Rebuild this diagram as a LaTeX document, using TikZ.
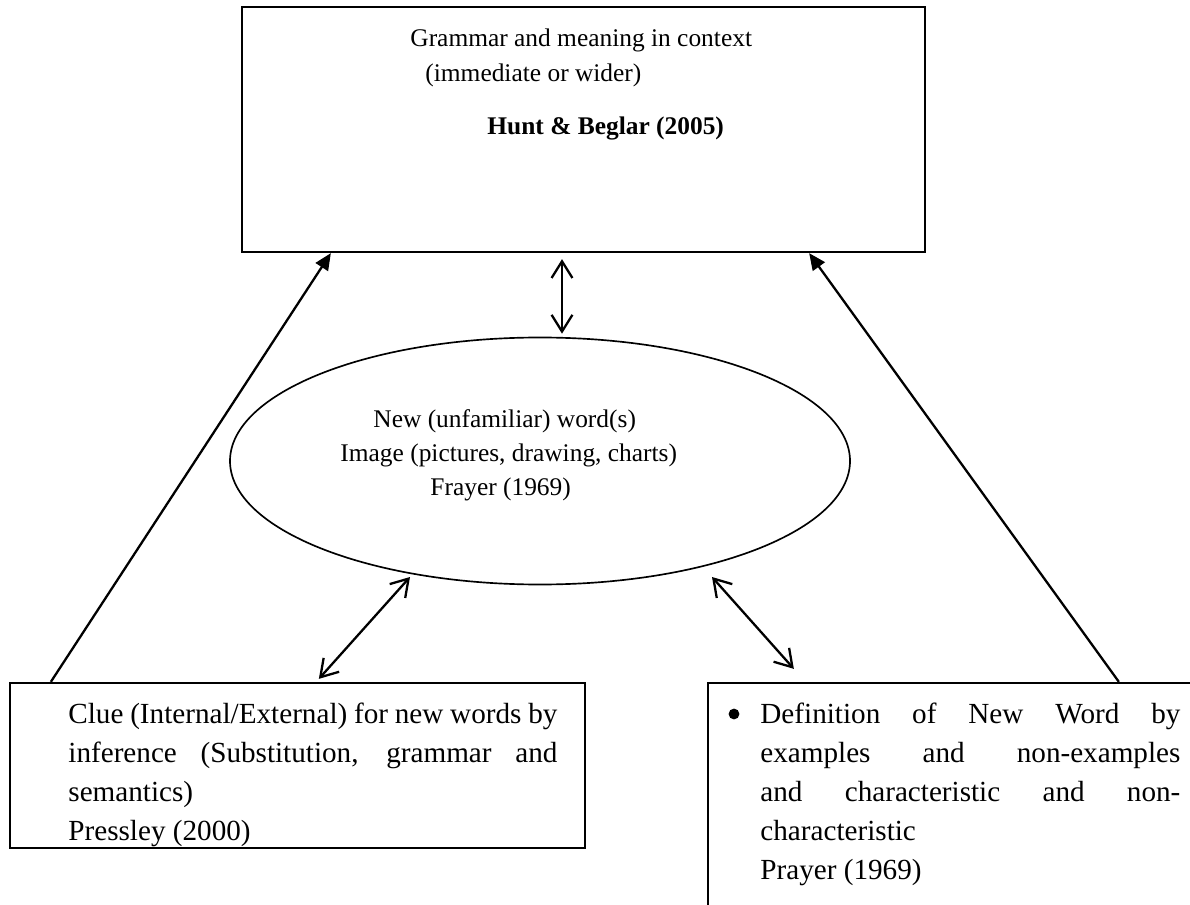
\documentclass[tikz,border=0pt]{standalone}
\usepackage{fontspec}
\setmainfont{Liberation Serif}
\usetikzlibrary{shapes.geometric,arrows.meta,calc}
\newcommand\parsetup{\tolerance=10000 \hyphenpenalty=10000 \exhyphenpenalty=10000 \relax}
\begin{document}
\begin{tikzpicture}[x=0.48pt,y=-0.48pt,
  box/.style={draw, line width=1.1pt, rectangle, inner sep=0pt},
  para/.style={inner sep=0pt, anchor=base west, align=justify,
    font=\fontsize{14}{18.8}\selectfont},
  txt/.style={inner sep=0pt, anchor=base west, font=\fontsize{12.2}{14}\selectfont},
  fillarrow/.style={line width=1.1pt, -{Triangle[length=8pt,width=7pt]}},
  dblarrow/.style={line width=1.1pt, {Straight Barb[length=8pt,width=10pt]}-{Straight Barb[length=8pt,width=10pt]}},
]
\useasboundingbox (0,0) rectangle (1190,905);
\begin{scope}
\clip (0,0) rectangle (1190,905);
% boxes
\node[box, minimum width=683*0.48pt, minimum height=245*0.48pt] (top) at (583.5,129.5) {};
\node[box, minimum width=575*0.48pt, minimum height=165*0.48pt] (lbox) at (297.5,765.5) {};
\node[box, minimum width=502*0.48pt, minimum height=242*0.48pt] (rbox) at (959,804) {};
\node[draw, ellipse, line width=0.8pt, inner sep=0pt, minimum width=620*0.48pt, minimum height=247*0.48pt] (ell) at (540,461) {};
\end{scope}
% top texts
\node[txt] (t1) at (410,47) {Grammar and meaning in context};
\node[txt] (t2) at (425,82) {(immediate or wider)};
\node[txt, font=\fontsize{12.2}{14}\selectfont\bfseries] (t3) at (487,135) {Hunt \& Beglar (2005)};
% ellipse texts
\node[txt] (e1) at (373,428) {New (unfamiliar) word(s)};
\node[txt] (e2) at (340,462) {Image (pictures, drawing, charts)};
\node[txt] (e3) at (430,496) {Frayer (1969)};
% box paragraphs
\node[para, text width=489*0.48pt] (lt) at (68,723)
  {\parsetup Clue (Internal/External) for new words by\linebreak inference (Substitution, grammar and\linebreak semantics)\newline Pressley (2000)};
\node[circle, fill, inner sep=0pt, minimum size=5.2pt] (bul) at (734,714) {};
\node[para, text width=420*0.48pt] (rt) at (760,723)
  {\parsetup Definition of New Word by\linebreak examples and non-examples\linebreak and characteristic and non-\linebreak characteristic\newline Prayer (1969)};
% connectors
\draw[fillarrow] ($(lbox.north west)+(42,0)$) -- ($(top.south west)+(90,0)$);
\draw[fillarrow] ($(rbox.north west)+(412,0)$) -- ($(top.south east)+(-117,0)$);
\draw[dblarrow] ($(top.south)+(-21.5,6)$) -- ($(ell.north)+(22,-3)$);
\draw[dblarrow] ($(lbox.north west)+(310,-3)$) -- ($(ell.center)+(-130,116)$);
\draw[dblarrow] ($(ell.center)+(172,116)$) -- ($(rbox.north west)+(87,-13)$);
\end{tikzpicture}
\end{document}
